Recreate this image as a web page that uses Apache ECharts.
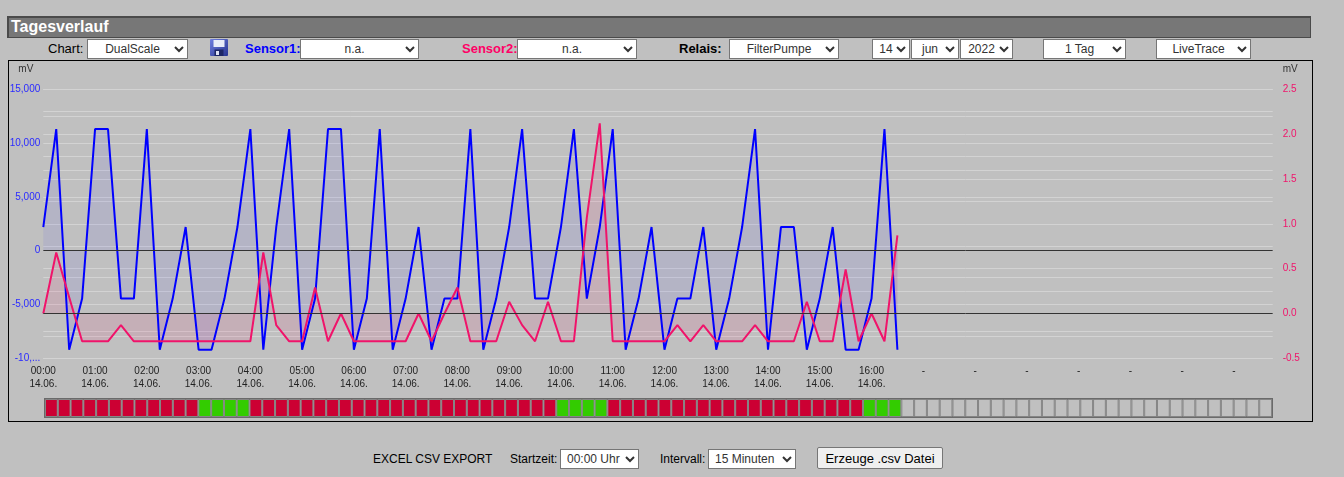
<!DOCTYPE html>
<html>
<head>
<meta charset="utf-8">
<title>Tagesverlauf</title>
<script src="https://cdn.jsdelivr.net/npm/echarts@6/dist/echarts.min.js"></script>
<style>
  html, body { margin: 0; padding: 0; background: #c0c0c0; }
  body { width: 1344px; height: 477px; position: relative; overflow: hidden;
         font-family: Arial, "Liberation Sans", sans-serif; }
  .abs { position: absolute; }
  #title { left: 7px; top: 16px; width: 1304px; height: 22px; box-sizing: border-box;
           background: #777; border: 1px solid #4a4a4a; border-top-width: 2px; border-left-width: 2px;
           color: #fff; font-weight: bold; font-size: 16px; line-height: 18px; padding-left: 2px; }
  .lbl { font-size: 13px; line-height: 15px; color: #000; white-space: nowrap; }
  .b { font-weight: bold; }
  select { position: absolute; height: 20px; box-sizing: border-box; font-size: 12px;
           font-family: Arial, "Liberation Sans", sans-serif; color: #333; background: #fff;
           border: 1px solid #767676; border-radius: 0; padding: 0 0 0 2px; margin: 0; }
  .c { text-align-last: center; }
  #chart { left: 8px; top: 60px; width: 1303px; height: 360px; border: 1px solid #000; }
  .small { font-size: 12px; line-height: 14px; color: #000; white-space: nowrap; }
  button { position: absolute; left: 817px; top: 447px; width: 126px; height: 22px;
           font-size: 13px; font-family: Arial, "Liberation Sans", sans-serif; color: #000;
           background: #efefef; border: 1px solid #767676; border-radius: 2px; padding: 0; }
</style>
</head>
<body>
<div id="title" class="abs">Tagesverlauf</div>

<div class="abs lbl" style="left:48px;top:41px">Chart:</div>
<select class="c" style="left:87px;top:39px;width:101px"><option>DualScale</option></select>
<svg class="abs" style="left:210px;top:39px" width="18" height="17" viewBox="0 0 18 17">
  <defs><linearGradient id="fl" x1="0" y1="0" x2="1" y2="1">
    <stop offset="0" stop-color="#6f7fe0"/><stop offset="1" stop-color="#27348f"/></linearGradient></defs>
  <rect x="0" y="0" width="18" height="17" rx="1" fill="url(#fl)"/>
  <rect x="3.5" y="1" width="11" height="7" fill="#e8ecf8"/>
  <rect x="4.5" y="10.5" width="9" height="6.5" fill="#1d2766"/>
  <rect x="6" y="12" width="3" height="4" fill="#dfe3f5"/>
</svg>
<div class="abs lbl b" style="left:245px;top:41px;color:#0000ff">Sensor1:</div>
<select class="c" style="left:300px;top:39px;width:119px"><option>n.a.</option></select>
<div class="abs lbl b" style="left:462px;top:41px;color:#ff0066">Sensor2:</div>
<select class="c" style="left:517px;top:39px;width:120px"><option>n.a.</option></select>
<div class="abs lbl b" style="left:679px;top:41px">Relais:</div>
<select class="c" style="left:729px;top:39px;width:110px"><option>FilterPumpe</option></select>
<select class="c" style="left:872px;top:39px;width:38px"><option>14</option></select>
<select class="c" style="left:911px;top:39px;width:48px"><option>jun</option></select>
<select class="c" style="left:960px;top:39px;width:53px"><option>2022</option></select>
<select class="c" style="left:1043px;top:39px;width:83px"><option>1 Tag</option></select>
<select class="c" style="left:1156px;top:39px;width:95px"><option>LiveTrace</option></select>

<div id="chart" class="abs"></div>

<div class="abs small" style="left:373px;top:452px">EXCEL CSV EXPORT</div>
<div class="abs small" style="left:510px;top:452px">Startzeit:</div>
<select style="left:560px;top:449px;width:79px"><option>00:00 Uhr</option></select>
<div class="abs small" style="left:660px;top:452px">Intervall:</div>
<select style="left:708px;top:449px;width:88px"><option>15 Minuten</option></select>
<button>Erzeuge .csv Datei</button>

<script>
// hourly tick labels (one per hour, 24 hours)
var hourLabels = [
  '00:00\n14.06.', '01:00\n14.06.', '02:00\n14.06.', '03:00\n14.06.', '04:00\n14.06.',
  '05:00\n14.06.', '06:00\n14.06.', '07:00\n14.06.', '08:00\n14.06.', '09:00\n14.06.',
  '10:00\n14.06.', '11:00\n14.06.', '12:00\n14.06.', '13:00\n14.06.', '14:00\n14.06.',
  '15:00\n14.06.', '16:00\n14.06.', '-', '-', '-', '-', '-', '-', '-'
];
var quarters = ['00', '15', '30', '45'];

// Sensor1 (mV, left scale), 15 minute values from 00:00 to 16:30
var sensor1 = [
  2200, 11300, -9200, -4450, 11300, 11300, -4450, -4450,
  11300, -9200, -4450, 2200, -9200, -9200, -4450, 2200,
  11300, -9200, 2200, 11300, -9200, -4450, 11300, 11300,
  -9200, -4450, 11300, -9200, -4450, 2200, -9200, -4450,
  -4450, 11300, -9200, -4450, 2200, 11300, -4450, -4450,
  2200, 11300, -4450, 2200, 11300, -9200, -4450, 2200,
  -9200, -4450, -4450, 2200, -9200, -4450, 2200, 11300,
  -9200, 2200, 2200, -9200, -4450, 2200, -9200, -9200,
  -4450, 11300, -9200
];

// Sensor2 (mV, right scale)
var sensor2 = [
  0.0, 0.68, 0.18, -0.31, -0.31, -0.31, -0.13, -0.31,
  -0.31, -0.31, -0.31, -0.31, -0.31, -0.31, -0.31, -0.31,
  -0.31, 0.68, -0.13, -0.31, -0.31, 0.29, -0.31, 0.0,
  -0.31, -0.31, -0.31, -0.31, -0.31, 0.0, -0.31, 0.0,
  0.29, -0.31, -0.31, -0.31, 0.13, -0.13, -0.31, 0.13,
  -0.31, -0.31, 1.07, 2.12, -0.31, -0.31, -0.31, -0.31,
  -0.31, -0.13, -0.31, -0.13, -0.31, -0.31, -0.31, -0.13,
  -0.31, -0.31, -0.31, 0.13, -0.31, -0.31, 0.49, -0.31,
  0.0, -0.31, 0.87
];

// Relais FilterPumpe: 0 = aus, 1 = ein (no entry = keine Daten)
var relais = [
  0, 0, 0, 0, 0, 0, 0, 0, 0, 0, 0, 0, 1, 1, 1, 1,
  0, 0, 0, 0, 0, 0, 0, 0, 0, 0, 0, 0, 0, 0, 0, 0,
  0, 0, 0, 0, 0, 0, 0, 0, 1, 1, 1, 1, 0, 0, 0, 0,
  0, 0, 0, 0, 0, 0, 0, 0, 0, 0, 0, 0, 0, 0, 0, 0,
  1, 1, 1
];

var times = [];
hourLabels.forEach(function (l, h) {
  quarters.forEach(function (q) {
    times.push((h < 10 ? '0' + h : '' + h) + ':' + q);
  });
});

var relaisColor = { 0: '#cc0033', 1: '#33cc00' };
var relaisData = times.map(function (t, i) {
  var s = relais[i];
  return {
    value: 1,
    itemStyle: { color: s === undefined ? '#c0c0c0' : relaisColor[s] }
  };
});

var font = 'Arial, "Liberation Sans", sans-serif';
var gridColor = '#d3d3d3';

function zeroLine() {
  return {
    silent: true,
    symbol: ['none', 'none'],
    label: { show: false },
    lineStyle: { color: '#333', type: 'solid', width: 1 },
    data: [{ yAxis: 0 }]
  };
}

var option = {
  animation: false,
  textStyle: { fontFamily: font },
  grid: [
    { left: 34.3, top: 28.3, width: 1229.4, height: 269, outerBoundsMode: 'none' },
    { left: 36, top: 338, width: 1227, height: 18, show: true, borderColor: '#6a6a6a',
      borderWidth: 2, backgroundColor: 'transparent', outerBoundsMode: 'none' }
  ],
  xAxis: [
    {
      type: 'category', gridIndex: 0, data: times, boundaryGap: false,
      axisLine: { show: false }, axisTick: { show: false }, splitLine: { show: false },
      axisLabel: {
        interval: 3, color: '#222', fontSize: 10, lineHeight: 13, margin: 6, fontFamily: font,
        formatter: function (v, i) { return hourLabels[Math.floor(i / 4)]; }
      }
    },
    { type: 'category', gridIndex: 1, data: times, boundaryGap: true, show: false }
  ],
  yAxis: [
    {
      type: 'value', gridIndex: 0, min: -10000, max: 15000, interval: 5000,
      name: 'mV', nameLocation: 'end', nameGap: 15,
      nameTextStyle: { color: '#333', fontSize: 10, align: 'right', padding: [0, 10, 0, 0], fontFamily: font },
      axisLine: { show: false }, axisTick: { show: false },
      axisLabel: { color: '#2a2aff', fontSize: 10, margin: 3, width: 32, overflow: 'truncate',
                   ellipsis: '...', fontFamily: font },
      splitLine: { lineStyle: { color: gridColor, width: 1 } },
      minorTick: { show: false, splitNumber: 2 },
      minorSplitLine: { show: true, lineStyle: { color: gridColor, width: 1 } }
    },
    {
      type: 'value', gridIndex: 0, position: 'right', min: -0.5, max: 2.5, interval: 0.5,
      name: 'mV', nameLocation: 'end', nameGap: 15,
      nameTextStyle: { color: '#333', fontSize: 10, align: 'left', padding: [0, 0, 0, 10], fontFamily: font },
      axisLine: { show: false }, axisTick: { show: false },
      axisLabel: { color: '#f0136a', fontSize: 10, margin: 10, fontFamily: font,
                   formatter: function (v) { return v.toFixed(1); } },
      splitLine: { lineStyle: { color: gridColor, width: 1 } },
      minorTick: { show: false, splitNumber: 2 },
      minorSplitLine: { show: true, lineStyle: { color: gridColor, width: 1 } }
    },
    { type: 'value', gridIndex: 1, min: 0, max: 1, show: false }
  ],
  series: [
    {
      name: 'Sensor1', type: 'line', xAxisIndex: 0, yAxisIndex: 0, data: sensor1,
      symbol: 'none', lineStyle: { color: '#0000ff', width: 2 },
      itemStyle: { color: '#0000ff' },
      areaStyle: { color: 'rgba(40,40,255,0.11)' },
      markLine: zeroLine()
    },
    {
      name: 'Sensor2', type: 'line', xAxisIndex: 0, yAxisIndex: 1, data: sensor2,
      symbol: 'none', lineStyle: { color: '#f0136a', width: 2 },
      itemStyle: { color: '#f0136a' },
      areaStyle: { color: 'rgba(255,0,90,0.12)' },
      markLine: zeroLine()
    },
    {
      name: 'Relais', type: 'bar', xAxisIndex: 1, yAxisIndex: 2, data: relaisData,
      barWidth: '100%', barCategoryGap: 0, silent: true,
      itemStyle: { borderColor: '#858585', borderWidth: 1 }
    }
  ]
};

var myChart = echarts.init(document.getElementById('chart'));
myChart.setOption(option);
</script>
</body>
</html>
